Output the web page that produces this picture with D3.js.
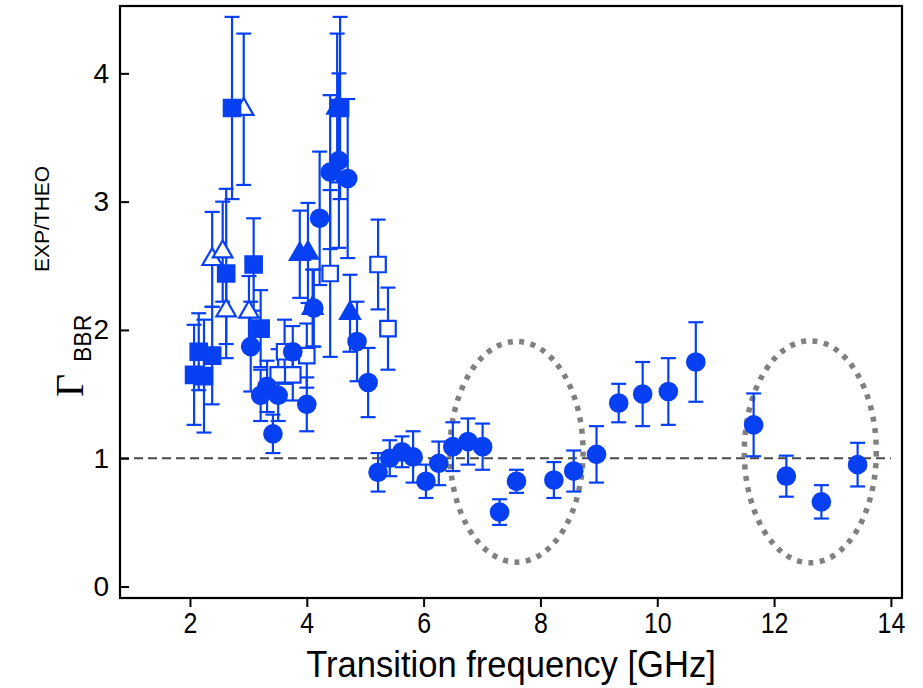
<!DOCTYPE html>
<html>
<head>
  <meta charset="utf-8" />
  <title>BBR ratio</title>
  <script src="https://cdn.jsdelivr.net/npm/d3@7"></script>
  <style>
    body { margin: 0; background: #fff; }
  </style>
</head>
<body>
<div id="vis"></div>
<script>
var w = 923, h = 688;
var margin = {top: 6, right: 21, bottom: 90, left: 120};

// [frequency GHz, ratio, error]
var filledCircles = [
  [3.04, 1.87, 0.35], [3.21, 1.49, 0.20], [3.32, 1.56, 0.20], [3.42, 1.19, 0.15],
  [3.51, 1.49, 0.20], [3.76, 1.83, 0.20], [4.00, 1.42, 0.21], [4.12, 2.17, 0.30],
  [4.22, 2.87, 0.52], [4.40, 3.23, 0.60], [4.55, 3.32, 0.68], [4.70, 3.18, 0.62],
  [4.86, 1.91, 0.31], [5.05, 1.59, 0.27],
  [5.22, 0.89, 0.15], [5.42, 1.00, 0.14], [5.63, 1.05, 0.12], [5.82, 1.01, 0.20],
  [6.04, 0.82, 0.13], [6.26, 0.96, 0.17], [6.50, 1.09, 0.19], [6.76, 1.13, 0.18],
  [7.01, 1.09, 0.18], [7.30, 0.58, 0.10], [7.59, 0.82, 0.09], [8.23, 0.83, 0.14],
  [8.57, 0.90, 0.16], [8.96, 1.03, 0.22], [9.34, 1.43, 0.15], [9.75, 1.50, 0.25],
  [10.19, 1.52, 0.26], [10.66, 1.75, 0.31], [11.65, 1.26, 0.245], [12.21, 0.86, 0.16],
  [12.81, 0.66, 0.13], [13.43, 0.95, 0.17]
];
var filledSquares = [
  [2.07, 1.65, 0.39], [2.24, 1.64, 0.44], [2.15, 1.83, 0.30], [2.38, 1.80, 0.38],
  [2.62, 2.44, 0.66], [2.72, 3.73, 0.71], [3.09, 2.51, 0.36], [3.21, 2.01, 0.30],
  [4.57, 3.73, 0.71]
];
var openSquares = [
  [3.51, 1.65, 0.20], [3.62, 1.83, 0.25], [3.76, 1.65, 0.20], [4.00, 1.80, 0.25],
  [4.40, 2.44, 0.65], [5.22, 2.51, 0.35], [5.39, 2.01, 0.32]
];
var filledTriangles = [
  [3.88, 2.59, 0.34], [4.02, 2.60, 0.39], [4.10, 2.17, 0.30], [4.52, 3.73, 0.58],
  [4.74, 2.13, 0.30]
];
var openTriangles = [
  [2.38, 2.55, 0.37], [2.56, 2.61, 0.39], [2.62, 2.15, 0.26], [2.92, 3.72, 0.59],
  [3.01, 2.14, 0.28]
];
// ellipses: [center f, center ratio, half width GHz, half height]
var ellipses = [[7.59, 1.05, 1.14, 0.86], [12.62, 1.05, 1.13, 0.865]];

var xTicks = [2, 4, 6, 8, 10, 12, 14];
var yTicks = [0, 1, 2, 3, 4];
var blue = "#0640f2";
var sans = "Liberation Sans, Arial, sans-serif";

var svg = d3.select("#vis").append("svg").attr("width", w).attr("height", h);
var x = d3.scaleLinear().domain([0.802, 14.19]).range([margin.left, w - margin.right]);
var y = d3.scaleLinear().domain([-0.0896, 4.525]).range([h - margin.bottom, margin.top]);

// reference line at 1
svg.append("line")
  .attr("x1", x(0.802)).attr("x2", x(14))
  .attr("y1", y(1)).attr("y2", y(1))
  .attr("stroke", "#4a4a4a").attr("stroke-width", 2).attr("stroke-dasharray", "9 5");

// dotted ellipses
svg.selectAll(".ell").data(ellipses).enter().append("ellipse")
  .attr("cx", function(d) { return x(d[0]); })
  .attr("cy", function(d) { return y(d[1]); })
  .attr("rx", function(d) { return x(d[0] + d[2]) - x(d[0]); })
  .attr("ry", function(d) { return y(d[1] - d[3]) - y(d[1]); })
  .attr("fill", "none").attr("stroke", "#808080").attr("stroke-width", 5.5)
  .attr("stroke-dasharray", "5 6.5");

var all = filledCircles.concat(filledSquares, openSquares, filledTriangles, openTriangles);
var cap = 7.5;
var eb = svg.append("g").attr("stroke", blue).attr("stroke-width", 2.2).attr("fill", "none");
all.forEach(function(d) {
  var cx = x(d[0]), top = y(d[1] + d[2]), bot = y(d[1] - d[2]);
  eb.append("line").attr("x1", cx).attr("x2", cx).attr("y1", top).attr("y2", bot);
  eb.append("line").attr("x1", cx - cap).attr("x2", cx + cap).attr("y1", top).attr("y2", top);
  eb.append("line").attr("x1", cx - cap).attr("x2", cx + cap).attr("y1", bot).attr("y2", bot);
});

function marks(data, type, size, filled) {
  svg.append("g").selectAll("path").data(data).enter().append("path")
    .attr("d", d3.symbol().type(type).size(size))
    .attr("transform", function(d) { return "translate(" + x(d[0]) + "," + y(d[1]) + ")"; })
    .attr("fill", filled ? blue : "#fff")
    .attr("stroke", blue).attr("stroke-width", 2.2);
}
marks(openTriangles, d3.symbolTriangle, 165, false);
marks(filledSquares, d3.symbolSquare, 270, true);
marks(openSquares, d3.symbolSquare, 240, false);
marks(filledTriangles, d3.symbolTriangle, 170, true);
marks(filledCircles, d3.symbolCircle, 240, true);

// frame
svg.append("rect")
  .attr("x", margin.left).attr("y", margin.top)
  .attr("width", w - margin.left - margin.right)
  .attr("height", h - margin.top - margin.bottom)
  .attr("fill", "none").attr("stroke", "#000").attr("stroke-width", 2.2);

// x axis, ticks outward, condensed labels
var xAxis = svg.append("g")
  .attr("transform", "translate(0," + (h - margin.bottom) + ")")
  .call(d3.axisBottom(x).tickValues(xTicks).tickSize(9).tickPadding(5));
xAxis.select(".domain").remove();
xAxis.selectAll("line").attr("stroke", "#000").attr("stroke-width", 2);
xAxis.selectAll("text").attr("font-family", sans).attr("font-size", 29).attr("fill", "#000")
  .attr("transform", "scale(0.86,1)");

// y axis, ticks inward
var yAxis = svg.append("g")
  .attr("transform", "translate(" + margin.left + ",0)")
  .call(d3.axisLeft(y).tickValues(yTicks).tickFormat(d3.format("d")).tickSize(-9).tickPadding(11));
yAxis.select(".domain").remove();
yAxis.selectAll("line").attr("stroke", "#000").attr("stroke-width", 2);
yAxis.selectAll("text").attr("font-family", sans).attr("font-size", 28).attr("fill", "#000");

svg.append("g").attr("transform", "translate(511,677) scale(0.96,1)")
  .append("text").attr("text-anchor", "middle")
  .attr("font-family", sans).attr("font-size", 36).text("Transition frequency [GHz]");

// y label
var yl = svg.append("g").attr("transform", "translate(83,397) rotate(-90)");
yl.append("text").attr("x", 0).attr("y", 0)
  .attr("font-family", "Liberation Serif, Times New Roman, serif").attr("font-size", 40)
  .text("\u0393");
yl.append("text").attr("x", 35).attr("y", 8)
  .attr("font-family", sans).attr("font-size", 23)
  .text("BBR");
yl.append("text").attr("x", 125).attr("y", -34)
  .attr("font-family", sans).attr("font-size", 21)
  .text("EXP/THEO");
</script>
</body>
</html>
